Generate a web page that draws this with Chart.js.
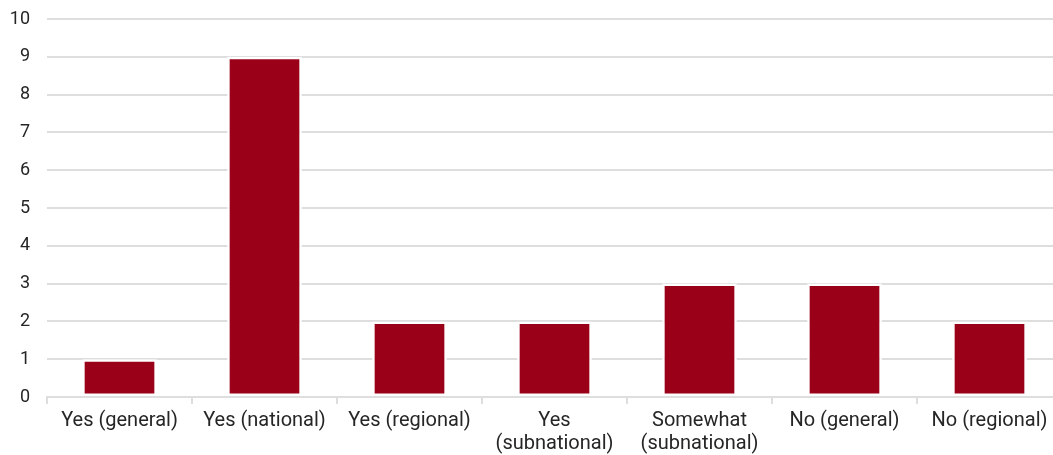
<!DOCTYPE html>
<html>
<head>
<meta charset="utf-8">
<script src="https://cdn.jsdelivr.net/npm/chart.js@4"></script>
<style>
  html, body { margin: 0; padding: 0; background: #fff; overflow: hidden; }
  #wrap { position: relative; width: 1062px; height: 455px; }
</style>
</head>
<body>
<div id="wrap"><canvas id="chart"></canvas></div>
<script>
// Categories (multi-line labels) and counts
const categories = [
  'Yes (general)',
  'Yes (national)',
  'Yes (regional)',
  ['Yes', '(subnational)'],
  ['Somewhat', '(subnational)'],
  'No (general)',
  'No (regional)'
];
const counts = [1, 9, 2, 2, 3, 3, 2];
const yTicks = [0, 1, 2, 3, 4, 5, 6, 7, 8, 9, 10];

const barColor = '#9b0019';
const gridColor = '#dedede';
const textColor = '#262626';

Chart.defaults.font.family = 'Roboto, "Noto Sans", sans-serif';
Chart.defaults.font.size = 18;
Chart.defaults.color = textColor;

new Chart(document.getElementById('chart'), {
  type: 'bar',
  data: {
    labels: categories,
    datasets: [{
      data: counts,
      backgroundColor: barColor,
      borderColor: '#ffffff',
      borderWidth: 2.5,
      borderSkipped: false,
      categoryPercentage: 1,
      barPercentage: 0.515
    }]
  },
  options: {
    responsive: true,
    maintainAspectRatio: false,
    animation: false,
    layout: { padding: { left: 7, top: 0, right: 0, bottom: 0 } },
    plugins: { legend: { display: false }, tooltip: { enabled: false } },
    scales: {
      x: {
        afterFit: (s) => { s.paddingLeft = 0; s.paddingRight = 0; s.height = 58; },
        grid: {
          display: true,
          drawOnChartArea: false,
          drawTicks: true,
          tickLength: 7,
          color: gridColor,
          lineWidth: 2,
          offset: true
        },
        border: { display: true, color: gridColor, width: 2 },
        ticks: { padding: 5, maxRotation: 0, autoSkip: false, font: { size: 20, lineHeight: 1.15 } }
      },
      y: {
        min: 0,
        max: 10,
        afterBuildTicks: (scale) => { scale.ticks = yTicks.map(v => ({ value: v })); },
        afterFit: (s) => { s.paddingTop = 19; s.paddingBottom = 0; s.width = 40; },
        grid: { color: gridColor, lineWidth: 2, drawTicks: false },
        border: { display: false },
        ticks: { padding: 17, font: { size: 18 } }
      }
    }
  }
});
</script>
</body>
</html>
